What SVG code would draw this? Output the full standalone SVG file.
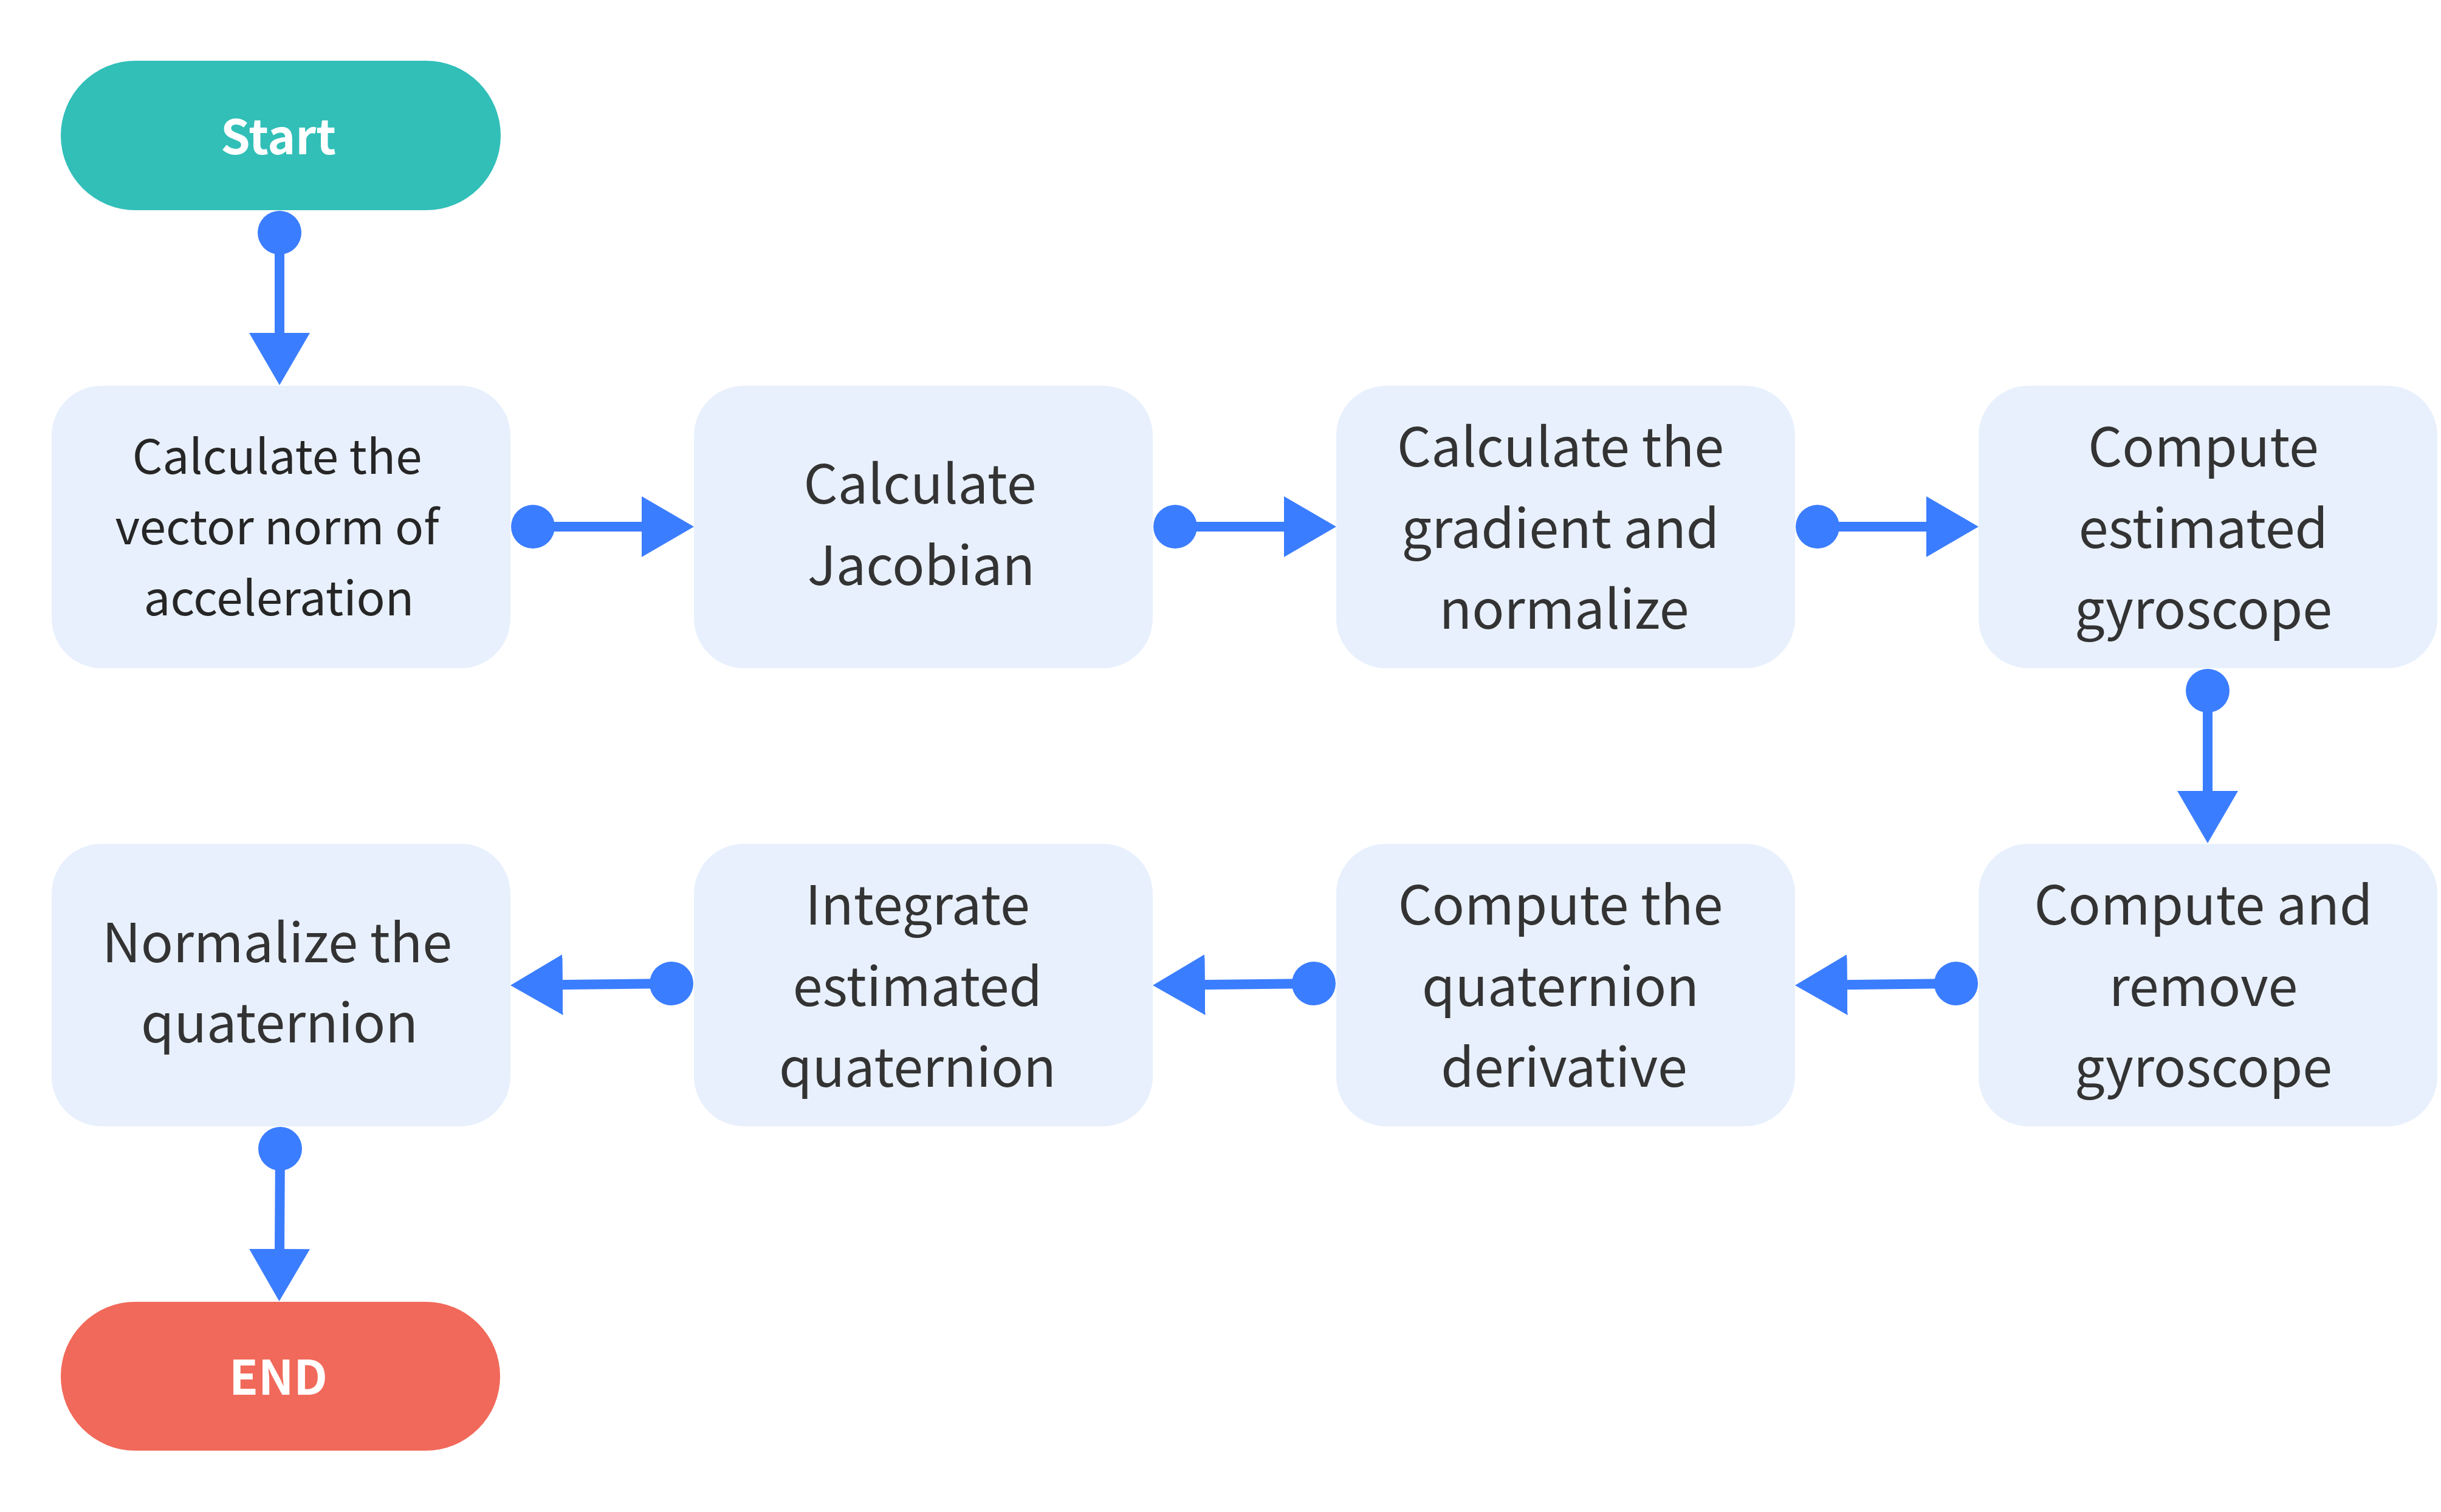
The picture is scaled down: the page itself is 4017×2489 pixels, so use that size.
<svg xmlns="http://www.w3.org/2000/svg" width="4017" height="2489" viewBox="0 0 4017 2489">
  <style>
    .bg { fill: #ffffff; }
    .box { fill: #E8F0FD; }
    .txt { font-family: "Noto Sans CJK SC", "Noto Sans", sans-serif; font-size: 88px; fill: #333333; text-anchor: middle; }
    .small { font-size: 78px; fill: #262626; }
    .term { font-family: "Noto Sans CJK SC", "Noto Sans", sans-serif; font-size: 78px; font-weight: 700; fill: #ffffff; text-anchor: middle; }
    .conn { fill: none; stroke: #3B7DFF; stroke-width: 16; marker-start: url(#dot); marker-end: url(#arrow); }
  </style>
  <defs>
    <marker id="arrow" markerUnits="userSpaceOnUse" markerWidth="86" markerHeight="100" refX="0" refY="50" orient="auto" viewBox="0 0 86 100">
      <path d="M0,0 L86,50 L0,100 Z" fill="#3B7DFF"/>
    </marker>
    <marker id="dot" markerUnits="userSpaceOnUse" markerWidth="72" markerHeight="72" refX="36" refY="36" orient="auto" viewBox="0 0 72 72">
      <circle cx="36" cy="36" r="36" fill="#3B7DFF"/>
    </marker>
  </defs>
  <rect class="bg" x="0" y="0" width="4017" height="2489"/>

  <g id="connectors">
    <path class="conn" d="M460,383 L460,548"/>
    <path class="conn" d="M877,867 L1056,867"/>
    <path class="conn" d="M1934,867 L2113,867"/>
    <path class="conn" d="M2991,867 L3170,867"/>
    <path class="conn" d="M3633,1137 L3633,1302"/>
    <path class="conn" d="M3219,1619 L3040,1621"/>
    <path class="conn" d="M2162,1619 L1983,1621"/>
    <path class="conn" d="M1105,1619 L926,1621"/>
    <path class="conn" d="M461,1891 L460,2056"/>
  </g>

  <g id="start">
    <rect x="100" y="100" width="724" height="246" rx="123" fill="#31BFB8"/>
    <text class="term" x="458" y="254">Start</text>
  </g>

  <g id="n1">
    <rect class="box" x="85" y="635" width="755" height="465" rx="82"/>
    <text class="txt small" x="456"><tspan x="456" y="780">Calculate the</tspan><tspan x="456" y="896">vector norm of</tspan><tspan x="459" y="1013">acceleration</tspan></text>
  </g>
  <g id="n2">
    <rect class="box" x="1142" y="635" width="755" height="465" rx="82"/>
    <text class="txt" x="1514"><tspan x="1514" y="829">Calculate</tspan><tspan x="1516" y="963">Jacobian</tspan></text>
  </g>
  <g id="n3">
    <rect class="box" x="2199" y="635" width="755" height="465" rx="82"/>
    <text class="txt" x="2568"><tspan x="2568" y="768">Calculate the</tspan><tspan x="2568" y="902">gradient and</tspan><tspan x="2574" y="1035">normalize</tspan></text>
  </g>
  <g id="n4">
    <rect class="box" x="3256" y="635" width="755" height="465" rx="82"/>
    <text class="txt" x="3626"><tspan x="3626" y="768">Compute</tspan><tspan x="3626" y="902">estimated</tspan><tspan x="3626" y="1035">gyroscope</tspan></text>
  </g>
  <g id="n5">
    <rect class="box" x="3256" y="1389" width="755" height="465" rx="82"/>
    <text class="txt" x="3626"><tspan x="3626" y="1522">Compute and</tspan><tspan x="3626" y="1656">remove</tspan><tspan x="3626" y="1789">gyroscope</tspan></text>
  </g>
  <g id="n6">
    <rect class="box" x="2199" y="1389" width="755" height="465" rx="82"/>
    <text class="txt" x="2568"><tspan x="2568" y="1522">Compute the</tspan><tspan x="2568" y="1656">quaternion</tspan><tspan x="2574" y="1789">derivative</tspan></text>
  </g>
  <g id="n7">
    <rect class="box" x="1142" y="1389" width="755" height="465" rx="82"/>
    <text class="txt" x="1510"><tspan x="1510" y="1522">Integrate</tspan><tspan x="1510" y="1656">estimated</tspan><tspan x="1510" y="1789">quaternion</tspan></text>
  </g>
  <g id="n8">
    <rect class="box" x="85" y="1389" width="755" height="465" rx="82"/>
    <text class="txt" x="456"><tspan x="456" y="1584">Normalize the</tspan><tspan x="460" y="1716">quaternion</tspan></text>
  </g>

  <g id="end">
    <rect x="100" y="2143" width="723" height="245" rx="122.5" fill="#F1695A"/>
    <text class="term" x="458" y="2296">END</text>
  </g>
</svg>
